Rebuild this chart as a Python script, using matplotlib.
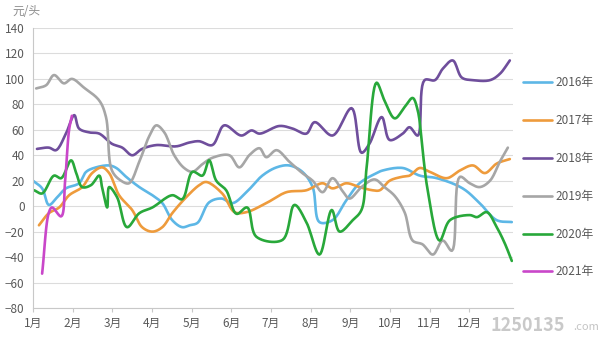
import matplotlib
matplotlib.use("Agg")
import matplotlib.pyplot as plt
import numpy as np

plt.rcParams['font.family'] = ['Noto Sans CJK SC', 'DejaVu Sans']

months = ['1月', '2月', '3月', '4月', '5月', '6月', '7月', '8月', '9月', '10月', '11月', '12月']
yticks = [-80, -60, -40, -20, 0, 20, 40, 60, 80, 100, 120, 140]

x2016 = [0.0, 0.23, 0.40, 0.61, 0.83, 1.16, 1.34, 1.59, 1.92, 2.10, 2.35, 2.68, 3.01, 3.26, 3.51, 3.76, 3.95, 4.15, 4.44, 4.75, 5.03, 5.38, 5.78, 6.14, 6.46, 6.79, 7.05, 7.22, 7.55, 7.90, 8.23, 8.66, 8.81, 9.32, 9.75, 10.18, 10.83, 11.26, 11.69, 12.07]
y2016 = [20, 14, 1, 7, 14, 18, 27, 30.5, 32, 30, 23, 15, 8.6, 2.4, -11, -16.5, -15, -13, 3, 6, 2.4, 11, 24, 30.5, 32, 27, 15, -12.5, -11, 4.7, 18, 26, 28, 30, 24, 22, 14, 2.4, -11, -12.5]

x2017 = [0.15, 0.40, 0.66, 0.91, 1.24, 1.49, 1.74, 1.92, 2.17, 2.50, 2.75, 3.01, 3.26, 3.51, 3.86, 4.19, 4.37, 4.77, 5.08, 5.38, 5.88, 6.39, 6.89, 7.30, 7.55, 7.90, 8.23, 8.56, 8.74, 8.99, 9.29, 9.49, 9.75, 10.00, 10.43, 10.76, 11.09, 11.39, 11.69, 12.02]
y2017 = [-15, -5.5, -1, 8.6, 15, 26, 30.5, 26, 8.6, -3, -16.5, -20, -16.5, -5.5, 7, 16.5, 19, 10, -4.7, -4.7, 2.4, 11, 12.5, 18, 14, 18, 15, 12.5, 12.5, 20, 23, 24, 30, 27, 22, 28, 32, 26, 33.5, 37]

x2018 = [0.10, 0.40, 0.58, 0.83, 1.04, 1.16, 1.41, 1.67, 1.99, 2.25, 2.50, 2.75, 3.11, 3.61, 3.94, 4.19, 4.52, 4.82, 5.25, 5.51, 5.71, 6.21, 6.54, 6.89, 7.10, 7.55, 8.03, 8.28, 8.48, 8.79, 8.99, 9.32, 9.49, 9.70, 9.87, 10.13, 10.33, 10.58, 10.81, 11.09, 11.52, 11.77, 12.02]
y2018 = [45, 46, 44, 57, 71.5, 61, 58, 57, 49, 46, 40, 45, 48, 47, 50, 51, 48, 63.5, 55.5, 59.5, 57, 63, 61, 57, 66, 55.5, 77, 42, 49, 70, 52, 57, 62, 55.5, 99, 99, 108, 114.5, 101, 99, 99, 104, 114.5]

x2019 = [0.08, 0.33, 0.53, 0.78, 0.98, 1.29, 1.67, 1.84, 1.99, 2.22, 2.42, 2.68, 2.93, 3.11, 3.31, 3.56, 3.81, 4.02, 4.27, 4.52, 4.95, 5.20, 5.45, 5.71, 5.88, 6.14, 6.46, 6.79, 7.05, 7.30, 7.55, 7.80, 7.98, 8.28, 8.61, 8.86, 9.12, 9.37, 9.57, 9.82, 10.08, 10.33, 10.56, 10.76, 11.01, 11.26, 11.52, 11.77, 11.97]
y2019 = [92.5, 95, 103, 96.5, 100, 93, 83, 70, 28, 20, 18, 35, 55, 63.5, 58, 40, 30, 27, 33, 38, 40, 30.5, 40, 45.5, 38.5, 44, 35, 26, 20, 11, 22, 12, 6, 15, 21, 15, 8, -5, -27, -30, -38, -27, -35, 23, 18, 15, 20, 35, 46]

x2020 = [0.03, 0.23, 0.53, 0.71, 0.96, 1.09, 1.24, 1.46, 1.67, 1.74, 1.87, 1.92, 2.12, 2.37, 2.68, 3.01, 3.51, 3.76, 4.02, 4.27, 4.44, 4.62, 4.87, 5.13, 5.40, 5.63, 6.29, 6.59, 6.89, 7.22, 7.53, 7.73, 8.06, 8.28, 8.41, 8.66, 8.86, 9.12, 9.37, 9.57, 9.70, 9.82, 9.95, 10.25, 10.51, 11.01, 11.19, 11.44, 11.69, 11.89, 12.07]
y2020 = [12.5, 10, 24, 22, 36, 26, 15, 16.5, 24, 15, -1, 15, 7, -16.5, -5.5, -1, 8.6, 5.5, 27, 24, 36, 20, 12.5, -6, -1, -24, -26.5, 1, -12.5, -38, -3, -20, -11, -3, 30.5, 97, 83, 69, 78, 85, 75, 44, 12.5, -27, -11, -7, -8.6, -4.7, -16.5, -29, -43]

x2021 = [0.23, 0.40, 0.48, 0.71, 0.81, 0.91, 0.98]
y2021 = [-53, -5, -1, -8, 20, 60, 71]

series = [
    ('2016年', x2016, y2016, '#5DB7E6'),
    ('2017年', x2017, y2017, '#EE9B3C'),
    ('2018年', x2018, y2018, '#6F4E9C'),
    ('2019年', x2019, y2019, '#A6A6A6'),
    ('2020年', x2020, y2020, '#28A83A'),
    ('2021年', x2021, y2021, '#C947C9'),
]

fig = plt.figure(figsize=(6.0, 3.37), dpi=100)
ax = fig.add_axes([0.055, 0.086, 0.800, 0.831])
ax.set_xlim(0, 12.1)
ax.set_ylim(-80, 140)


def smooth_display(xs, ys, n=12):
    """Centripetal Catmull-Rom through the data points, computed in display space."""
    pts = ax.transData.transform(np.column_stack([xs, ys]))
    P = np.vstack([2 * pts[0] - pts[1], pts, 2 * pts[-1] - pts[-2]])
    out = []
    for i in range(1, len(P) - 2):
        p0, p1, p2, p3 = P[i - 1], P[i], P[i + 1], P[i + 2]
        t0 = 0.0
        t1 = t0 + max(np.linalg.norm(p1 - p0), 1e-6) ** 0.5
        t2 = t1 + max(np.linalg.norm(p2 - p1), 1e-6) ** 0.5
        t3 = t2 + max(np.linalg.norm(p3 - p2), 1e-6) ** 0.5
        for t in np.linspace(t1, t2, n, endpoint=False):
            a1 = (t1 - t) / (t1 - t0) * p0 + (t - t0) / (t1 - t0) * p1
            a2 = (t2 - t) / (t2 - t1) * p1 + (t - t1) / (t2 - t1) * p2
            a3 = (t3 - t) / (t3 - t2) * p2 + (t - t2) / (t3 - t2) * p3
            b1 = (t2 - t) / (t2 - t0) * a1 + (t - t0) / (t2 - t0) * a2
            b2 = (t3 - t) / (t3 - t1) * a2 + (t - t1) / (t3 - t1) * a3
            out.append((t2 - t) / (t2 - t1) * b1 + (t - t1) / (t2 - t1) * b2)
    out.append(pts[-1])
    data = ax.transData.inverted().transform(np.array(out))
    return data[:, 0], data[:, 1]


for name, xs, ys, c in series:
    sx, sy = smooth_display(xs, ys)
    ax.plot(sx, sy, color=c, lw=1.9, label=name, solid_joinstyle='round', solid_capstyle='round')

ax.set_yticks(yticks)
ax.set_xticks(range(len(months)))
ax.set_xticklabels(months)
ax.grid(axis='y', color='#DCDCDC', lw=0.8)
ax.set_axisbelow(True)
for s in ['top', 'right']:
    ax.spines[s].set_visible(False)
for s in ['left', 'bottom']:
    ax.spines[s].set_color('#C8C8C8')
    ax.spines[s].set_linewidth(0.8)
ax.tick_params(axis='both', colors='#C8C8C8', labelcolor='#595959', labelsize=8.5, length=3, width=0.8)
ax.tick_params(axis='y', length=0, pad=6)

fig.text(0.02, 0.985, '元/头', fontsize=8.5, color='#8C8C8C', va='top', ha='left')

leg = fig.legend(loc='upper left', bbox_to_anchor=(0.872, 0.773), frameon=False,
                 fontsize=8.5, labelspacing=2.1, handlelength=2.4, handletextpad=0.35,
                 borderpad=0, borderaxespad=0)
for t in leg.get_texts():
    t.set_color('#595959')

fig.text(0.818, 0.035, '1250135', fontsize=13, color='#C4C4C4', fontweight='bold', ha='left', va='center', alpha=0.9)
fig.text(0.955, 0.03, '.com', fontsize=8, color='#C4C4C4', ha='left', va='center')

fig.savefig('out.png', dpi=100)
